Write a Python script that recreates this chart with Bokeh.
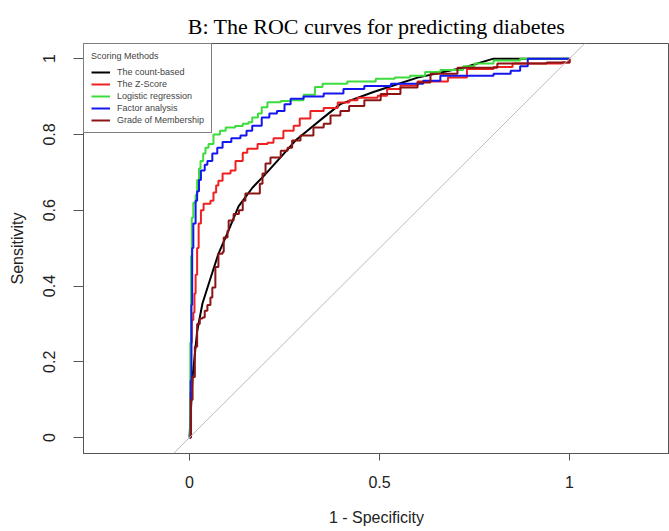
from bokeh.plotting import figure
from bokeh.models import Range1d, FixedTicker, Slope, Legend, LegendItem
from bokeh.embed import file_html
from bokeh.resources import INLINE

# ---- data (1 - specificity, sensitivity) ----
count_fpr = [0, 0.008, 0.02, 0.034, 0.055, 0.076, 0.1, 0.129, 0.166, 0.195, 0.24, 0.28,
             0.31, 0.353, 0.397, 0.484, 0.53, 0.6, 0.72, 0.8, 1.0]
count_tpr = [0, 0.16, 0.28, 0.354, 0.42, 0.485, 0.54, 0.61, 0.66, 0.69, 0.74, 0.785,
             0.81, 0.845, 0.88, 0.912, 0.927, 0.95, 0.976, 1.0, 1.0]

z_fpr = [0, 0.002, 0.004, 0.006, 0.01, 0.013, 0.016, 0.02, 0.024, 0.03, 0.037, 0.055, 0.063,
         0.07, 0.076, 0.087, 0.108, 0.121, 0.14, 0.152, 0.179, 0.205, 0.221, 0.247, 0.274,
         0.29, 0.318, 0.353, 0.39, 0.42, 0.442, 0.495, 0.52, 0.555, 0.6, 0.68, 0.73, 0.8,
         0.85, 0.98, 1.0]
z_tpr = [0, 0.12, 0.25, 0.31, 0.33, 0.38, 0.43, 0.5, 0.565, 0.6, 0.617, 0.625, 0.647,
         0.665, 0.678, 0.697, 0.705, 0.73, 0.752, 0.762, 0.775, 0.778, 0.79, 0.81, 0.823,
         0.842, 0.862, 0.87, 0.884, 0.89, 0.897, 0.902, 0.92, 0.929, 0.94, 0.95, 0.973, 0.978,
         0.987, 0.99, 1.0]

logit_fpr = [0, 0.002, 0.004, 0.006, 0.01, 0.016, 0.02, 0.025, 0.029, 0.036, 0.042, 0.05,
             0.063, 0.08, 0.095, 0.12, 0.14, 0.155, 0.165, 0.18, 0.19, 0.205, 0.24, 0.266,
             0.3, 0.33, 0.35, 0.415, 0.49, 0.54, 0.58, 0.62, 0.66, 0.72, 0.75, 0.8, 0.87, 1.0]
logit_tpr = [0, 0.25, 0.48, 0.58, 0.62, 0.64, 0.68, 0.71, 0.73, 0.75, 0.765, 0.775,
             0.8, 0.81, 0.818, 0.822, 0.828, 0.832, 0.845, 0.855, 0.872, 0.885, 0.888, 0.89,
             0.905, 0.925, 0.934, 0.94, 0.947, 0.95, 0.955, 0.965, 0.97, 0.98, 0.987, 0.995, 1.0, 1.0]

factor_fpr = [0, 0.003, 0.005, 0.007, 0.01, 0.016, 0.02, 0.025, 0.03, 0.04, 0.047, 0.06,
              0.073, 0.087, 0.11, 0.134, 0.15, 0.165, 0.19, 0.21, 0.23, 0.25, 0.266, 0.3,
              0.353, 0.405, 0.46, 0.53, 0.615, 0.66, 0.8, 0.845, 0.87, 0.89, 1.0]
factor_tpr = [0, 0.15, 0.35, 0.5, 0.565, 0.625, 0.65, 0.68, 0.705, 0.72, 0.73, 0.75,
              0.765, 0.78, 0.79, 0.797, 0.81, 0.823, 0.845, 0.855, 0.862, 0.88, 0.894, 0.9,
              0.908, 0.92, 0.928, 0.934, 0.942, 0.955, 0.96, 0.968, 0.98, 1.0, 1.0]

gom_fpr = [0, 0.004, 0.008, 0.014, 0.02, 0.027, 0.034, 0.04, 0.047, 0.055, 0.06, 0.068,
           0.076, 0.087, 0.09, 0.1, 0.103, 0.116, 0.13, 0.14, 0.147, 0.179, 0.185, 0.192,
           0.2, 0.213, 0.24, 0.258, 0.27, 0.292, 0.326, 0.353, 0.371, 0.397, 0.42, 0.46,
           0.503, 0.555, 0.6, 0.634, 0.705, 0.81, 0.94, 1.0]
gom_tpr = [0, 0.1, 0.16, 0.24, 0.3, 0.314, 0.317, 0.335, 0.35, 0.37, 0.396, 0.45,
           0.485, 0.49, 0.528, 0.546, 0.573, 0.59, 0.6, 0.625, 0.644, 0.644, 0.67, 0.697,
           0.723, 0.739, 0.757, 0.765, 0.784, 0.797, 0.818, 0.828, 0.85, 0.862, 0.875, 0.89,
           0.907, 0.924, 0.937, 0.96, 0.976, 0.987, 0.99, 1.0]

x_ticks = [0, 0.5, 1]
x_tick_labels = {0: "0", 0.5: "0.5", 1: "1"}
y_ticks = [0, 0.2, 0.4, 0.6, 0.8, 1]
y_tick_labels = {0: "0", 0.2: "0.2", 0.4: "0.4", 0.6: "0.6", 0.8: "0.8", 1: "1"}

series_names = ["The count-based", "The Z-Score", "Logistic regression",
                "Factor analysis", "Grade of Membership"]
series_colors = ["#000000", "#EE2020", "#3CDC3C", "#1515F0", "#8B1414"]

# ---- figure ----
p = figure(width=669, height=531, output_backend="svg", toolbar_location=None,
           x_range=Range1d(-0.279, 1.263), y_range=Range1d(-0.042, 1.040),
           min_border_left=83, min_border_top=43, min_border_bottom=78, min_border_right=0,
           title="B: The ROC curves for predicting diabetes")
axis_color = "#555555"
font = "Liberation Sans"

p.outline_line_color = axis_color
p.outline_line_width = 1
p.grid.visible = False
p.background_fill_color = "white"
p.border_fill_color = "white"

p.title.text_font = "Liberation Serif"
p.title.text_font_size = "22px"
p.title.text_font_style = "normal"
p.title.text_color = "black"
p.title.align = "center"

xa = p.xaxis[0]
xa.ticker = FixedTicker(ticks=x_ticks)
xa.major_label_overrides = x_tick_labels
xa.axis_label = "1 - Specificity"
ya = p.yaxis[0]
ya.ticker = FixedTicker(ticks=y_ticks)
ya.major_label_overrides = y_tick_labels
ya.axis_label = "Sensitivity"
ya.major_label_orientation = "vertical"

for ax in (xa, ya):
    ax.axis_line_color = axis_color
    ax.axis_line_width = 1
    ax.major_tick_line_color = axis_color
    ax.major_tick_in = 0
    ax.minor_tick_line_color = None
    ax.major_label_text_font = font
    ax.major_label_text_font_size = "16px"
    ax.major_label_text_color = "#222222"
    ax.axis_label_text_font = font
    ax.axis_label_text_font_size = "16px"
    ax.axis_label_text_font_style = "normal"
    ax.axis_label_text_color = "#222222"
xa.major_tick_out = 7
xa.major_label_standoff = 15
xa.axis_label_standoff = 18
ya.major_tick_out = 10
ya.major_label_standoff = 18
ya.axis_label_standoff = 15

# chance diagonal
p.add_layout(Slope(gradient=1, y_intercept=0, line_color="#BBBBBB", line_width=1))

xs = [count_fpr, z_fpr, logit_fpr, factor_fpr, gom_fpr]
ys = [count_tpr, z_tpr, logit_tpr, factor_tpr, gom_tpr]
items = []
for i, (name, col) in enumerate(zip(series_names, series_colors)):
    if i == 0:
        r = p.line(xs[i], ys[i], line_color=col, line_width=2)
    else:
        r = p.step(xs[i], ys[i], line_color=col, line_width=2, mode="after")
    items.append(LegendItem(label=name, renderers=[r]))

legend = Legend(items=items, location="top_left", title="Scoring Methods",
                title_text_font=font, title_text_font_size="9px",
                title_text_font_style="normal", title_standoff=6,
                label_text_font=font, label_text_font_size="9px",
                label_height=10, glyph_height=10, glyph_width=19, label_standoff=7,
                spacing=2, padding=7, margin=0,
                border_line_color="black", border_line_width=1,
                background_fill_color="white", background_fill_alpha=1.0)
p.add_layout(legend)

open("out.html", "w").write(file_html(p, INLINE))
